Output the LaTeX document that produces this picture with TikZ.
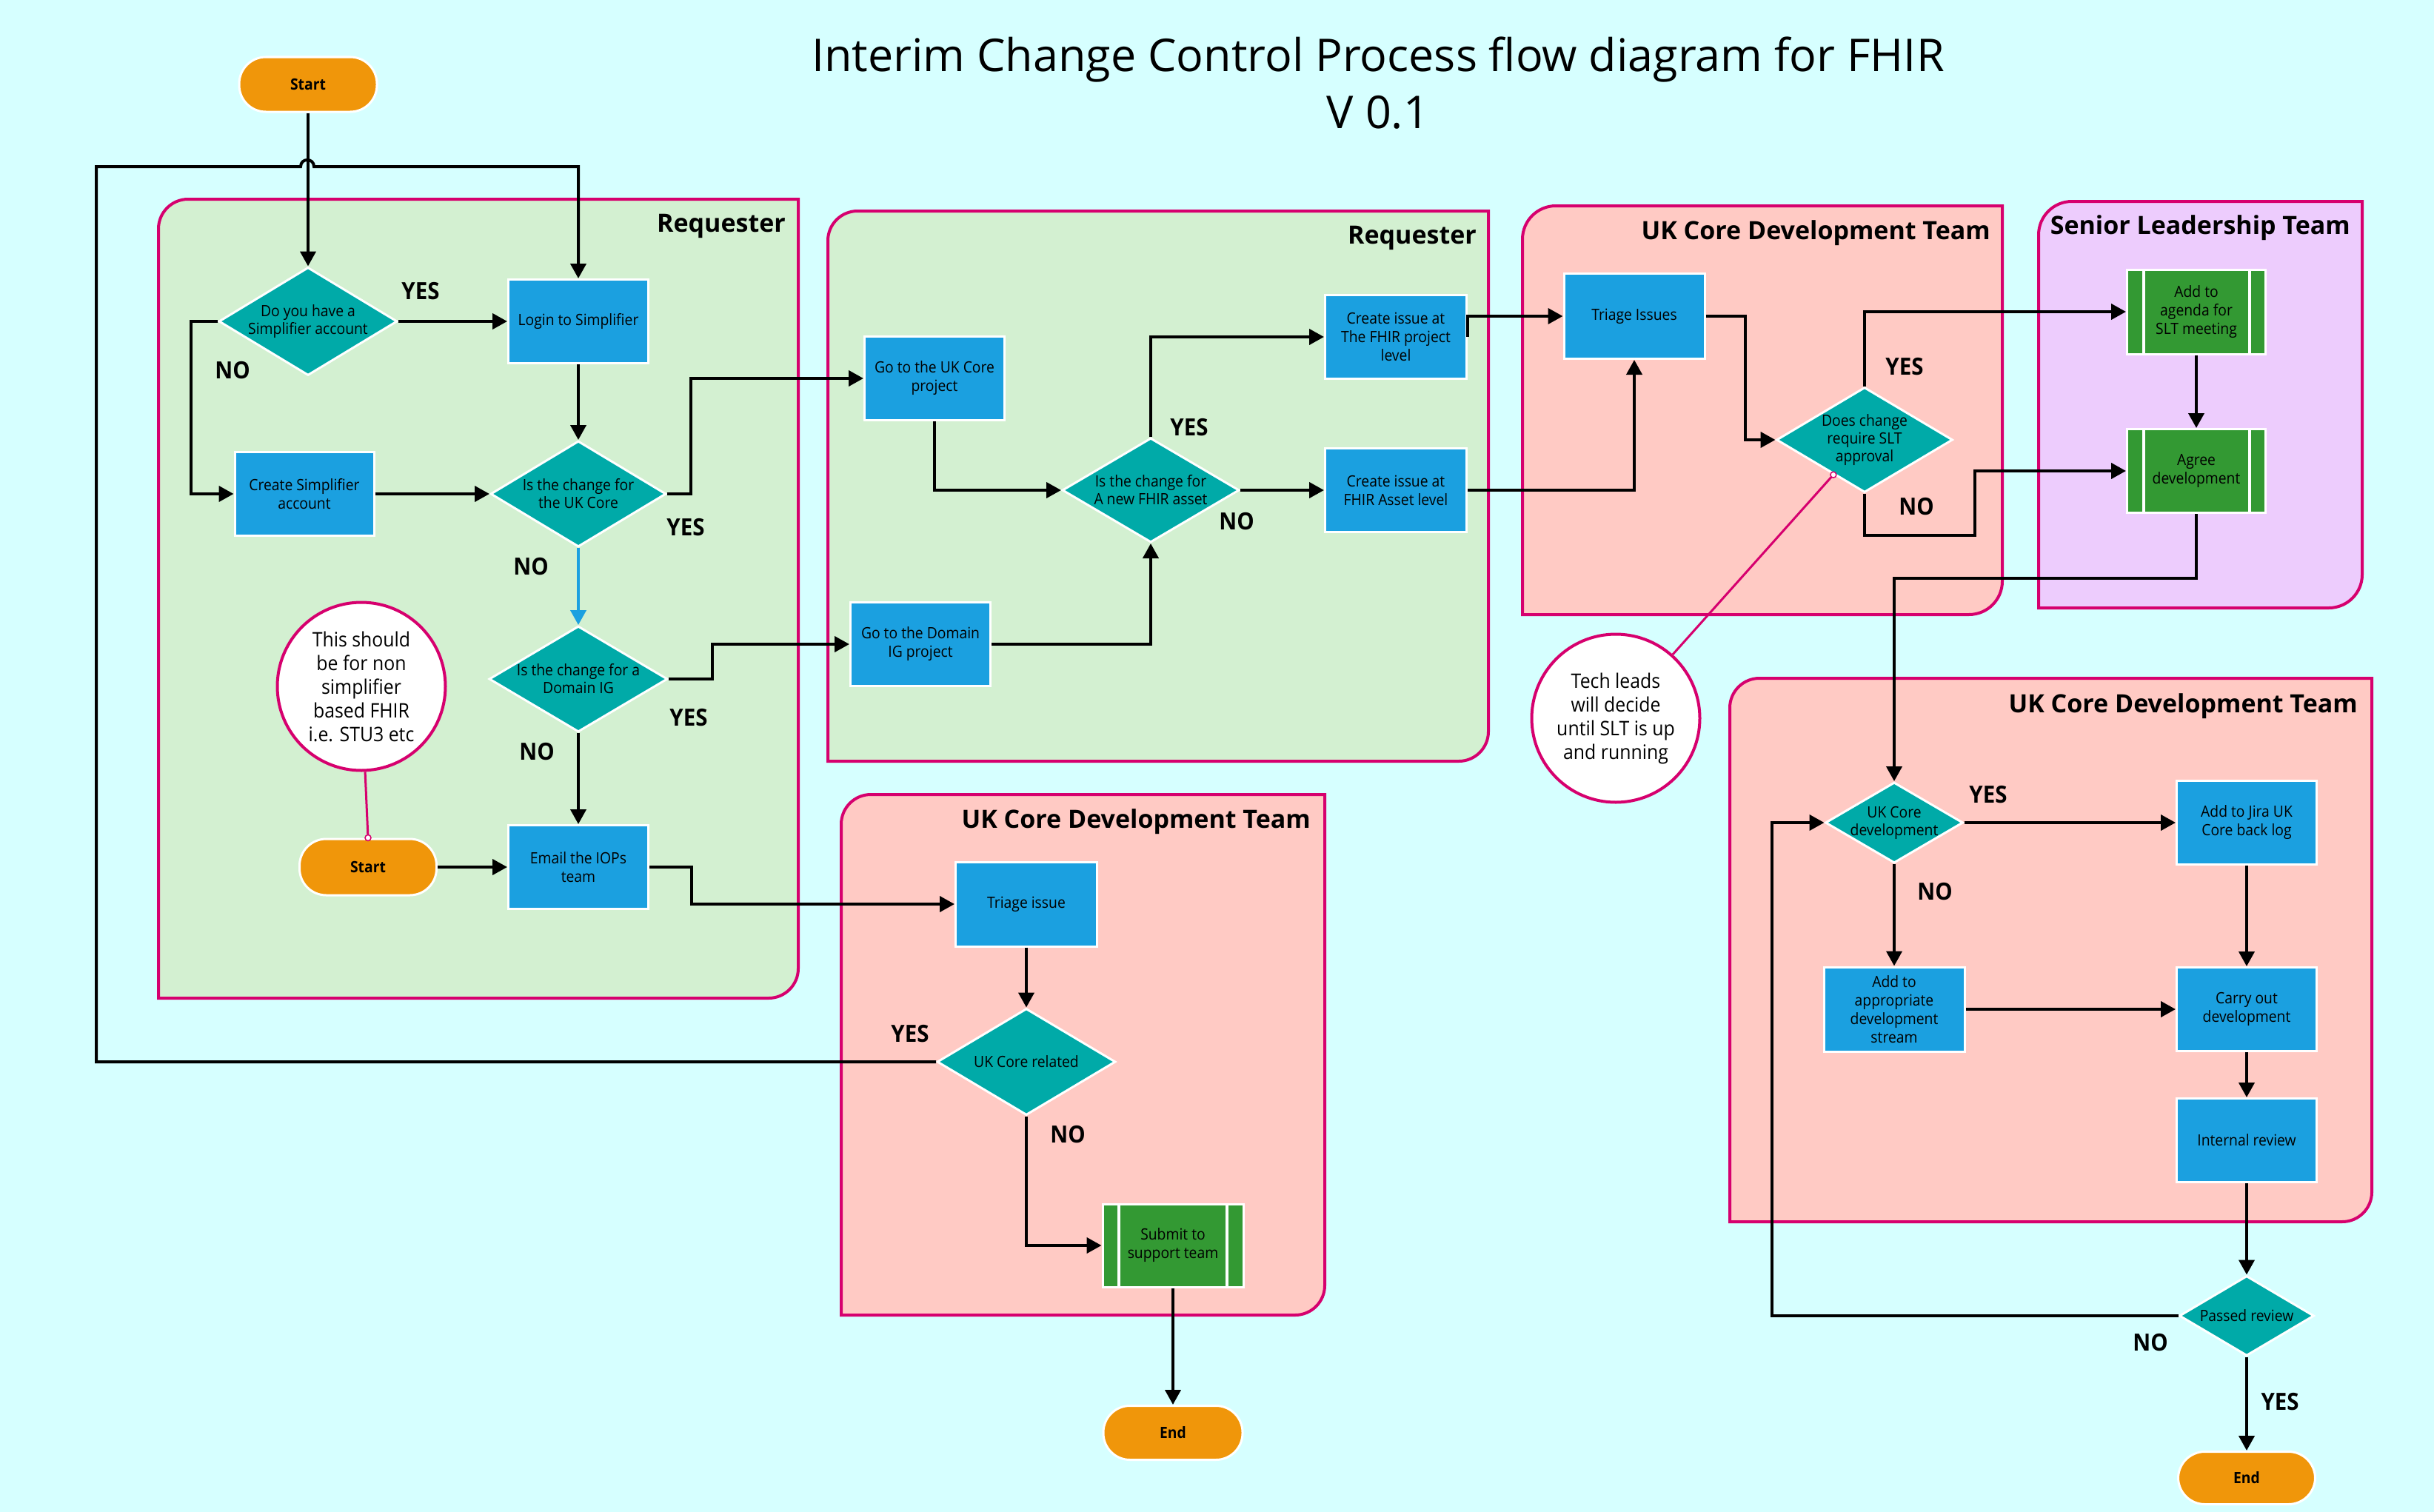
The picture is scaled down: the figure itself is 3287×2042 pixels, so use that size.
\documentclass[tikz,border=0pt]{standalone}
\usepackage{fontspec}
\setmainfont{Open Sans}
\newfontfamily\bodyf{Open Sans}[FakeStretch=0.92]
\usetikzlibrary{arrows.meta,shapes.geometric}
\definecolor{bgcyan}{RGB}{214,255,255}
\definecolor{procblue}{RGB}{27,160,224}
\definecolor{decteal}{RGB}{0,170,168}
\definecolor{predgreen}{RGB}{51,153,51}
\definecolor{termorange}{RGB}{240,150,10}
\definecolor{lanegreen}{RGB}{211,240,209}
\definecolor{lanepink}{RGB}{255,202,196}
\definecolor{lanelilac}{RGB}{237,204,253}
\definecolor{lanemag}{RGB}{214,0,110}
\newcommand\lanebox[6]{%
  \path[draw=lanemag, line width=4pt, fill=#6]
    (#1,#4) -- (#1,{#2+#5}) .. controls (#1,{#2+0.448*#5}) and ({#1+0.448*#5},#2) .. ({#1+#5},#2)
    -- (#3,#2) -- (#3,{#4-#5}) .. controls (#3,{#4-0.448*#5}) and ({#3-0.448*#5},#4) .. ({#3-#5},#4) -- cycle;}
\begin{document}
\begin{tikzpicture}[x=1pt,y=-1pt,
  proc/.style={rectangle, fill=procblue, draw=white, line width=3pt, minimum width=189pt, minimum height=113pt,
    inner sep=2pt, align=center, font=\bodyf\fontsize{21}{25}\selectfont},
  pred/.style={proc, fill=predgreen, minimum width=187pt,
    path picture={\draw[white, line width=4pt] ([xshift=22pt]path picture bounding box.north west) -- ([xshift=22pt]path picture bounding box.south west);
                  \draw[white, line width=4pt] ([xshift=-22pt]path picture bounding box.north east) -- ([xshift=-22pt]path picture bounding box.south east);}},
  dec/.style n args={3}{diamond, fill=decteal, draw=white, line width=3pt, inner sep=0pt, align=center,
    minimum width=#1pt, minimum height=#2pt, shape aspect=#3, font=\bodyf\fontsize{21}{24}\selectfont},
  term/.style={rectangle, rounded corners=36pt, fill=termorange, draw=white, line width=3pt,
    minimum width=186pt, minimum height=74pt, font=\bodyf\bfseries\fontsize{21}{25}\selectfont},
  note/.style={circle, fill=white, draw=lanemag, line width=4pt, minimum size=227pt, inner sep=0pt,
    align=center, font=\bodyf\fontsize{27}{32}\selectfont},
  yn/.style={font=\bodyf\bfseries\fontsize{32}{36}\selectfont, inner sep=0pt},
  lanetitle/.style={anchor=base east, inner sep=0pt, font=\bfseries\fontsize{34}{40}\selectfont},
  maintitle/.style={anchor=base, inner sep=0pt, font=\fontsize{61}{72}\selectfont},
  conn/.style={draw=black, line width=4pt, -{Triangle[length=20pt,width=21pt]}},
  noteline/.style={draw=lanemag, line width=3pt},
  notedot/.style={fill=white, draw=lanemag, line width=1.5pt}
]
\useasboundingbox (0,0) rectangle (3287,2042);
\fill[bgcyan] (0,0) rectangle (3287,2042);

% lanes
\lanebox{214}{269}{1078}{1348}{40}{lanegreen}
\lanebox{1118}{285}{2010}{1028}{40}{lanegreen}
\lanebox{1136}{1073}{1789}{1776}{40}{lanepink}
\lanebox{2056}{278}{2704}{830}{45}{lanepink}
\lanebox{2753}{272}{3190}{821}{45}{lanelilac}
\lanebox{2336}{916}{3203}{1650}{40}{lanepink}

\node[lanetitle] (lt1) at (1061,313) {Requester};
\node[lanetitle] (lt2) at (1994,329) {Requester};
\node[lanetitle] (lt3) at (1770,1118) {UK Core Development Team};
\node[lanetitle] (lt4) at (2688,323) {UK Core Development Team};
\node[lanetitle] (lt5) at (3174,316) {Senior Leadership Team};
\node[lanetitle] (lt6) at (3184,962) {UK Core Development Team};

% title
\node[maintitle] (title1) at (1861,96) {Interim Change Control Process flow diagram for FHIR};
\node[maintitle] (title2) at (1861,173) {V 0.1};

% nodes: requester 1
\node[term] (start1) at (416,114) {Start};
\node[dec={241}{146}{1.65}] (dec1) at (416,434) {Do you have a\\Simplifier account};
\node[proc] (login) at (781,434) {Login to Simplifier};
\node[proc, minimum width=188pt] (create) at (411,667) {Create Simplifier\\account};
\node[dec={237}{143}{1.66}] (dec2) at (781,667) {Is the change for\\the UK Core};
\node[dec={241}{143}{1.69}] (dec3) at (781,917) {Is the change for a\\Domain IG};
\node[note] (note1) at (488,927) {This should\\be for non\\simplifier\\based FHIR\\i.e. STU3 etc};
\node[term, minimum width=185pt, minimum height=76pt] (start2) at (497,1171) {Start};
\node[proc] (email) at (781,1171) {Email the IOPs\\team};

% requester 2
\node[proc] (ukproj) at (1262,511) {Go to the UK Core\\project};
\node[proc] (domig) at (1243,870) {Go to the Domain\\IG project};
\node[dec={239}{141}{1.70}] (dec4) at (1554,662) {Is the change for\\A new FHIR asset};
\node[proc, minimum width=191pt] (fhirproj) at (1885,455) {Create issue at\\The FHIR project\\level};
\node[proc, minimum width=191pt] (fhirasset) at (1885,662) {Create issue at\\FHIR Asset level};

% UK core top
\node[proc, minimum width=190pt, minimum height=115pt] (triage1) at (2207,427) {Triage Issues};
\node[dec={238}{142}{1.68}] (dec5) at (2518,594) {Does change\\require SLT\\approval};
\node[note] (note2) at (2182,970) {Tech leads\\will decide\\until SLT is up\\and running};

% SLT
\node[pred, minimum height=114pt] (agenda) at (2966,421) {Add to\\agenda for\\SLT meeting};
\node[pred] (agree) at (2966,636) {Agree\\development};

% UK core bottom right
\node[dec={186}{109}{1.71}, inner sep=-4pt] (dec6) at (2558,1111) {UK Core\\development};
\node[proc] (jira) at (3034,1111) {Add to Jira UK\\Core back log};
\node[proc, minimum width=190pt, minimum height=114pt] (stream) at (2558,1363) {Add to\\appropriate\\development\\stream};
\node[proc] (carry) at (3034,1363) {Carry out\\development};
\node[proc] (review) at (3034,1540) {Internal review};
\node[dec={182}{108}{1.69}] (dec8) at (3034,1777) {Passed review};
\node[term, minimum width=185pt, minimum height=71pt] (end2) at (3034,1996) {End};

% UK core bottom middle
\node[proc, minimum width=191pt, minimum height=114pt] (triage2) at (1386,1221) {Triage issue};
\node[dec={241}{144}{1.67}] (dec7) at (1386,1434) {UK Core related};
\node[pred, minimum width=190pt, minimum height=112pt] (submit) at (1584,1682) {Submit to\\support team};
\node[term, minimum width=188pt, minimum height=73pt] (end1) at (1584,1935) {End};

% coordinates
\coordinate (fbL) at (130,225);
\coordinate (hopA) at (406,225);
\coordinate (hopB) at (424,225);
\coordinate (n5) at (2667,723);
\coordinate (n8) at (2393,1777);

% connectors
\draw[conn] (start1.south) -- (dec1.north);
\draw[conn] (dec1.east) -- (login.west);
\draw[conn] (dec1.west) -- ++(-36,0) |- (create.west);
\draw[conn] (login.south) -- (dec2.north);
\draw[conn] (create.east) -- (dec2.west);
\draw[conn] (dec2.east) -- ++(32,0) |- (ukproj.west);
\draw[conn, draw=procblue] (dec2.south) -- (dec3.north);
\draw[conn] (dec3.east) -- ++(59,0) |- (domig.west);
\draw[conn] (dec3.south) -- (email.north);
\draw[conn] (start2.east) -- (email.west);
\draw[conn] (email.east) -- ++(57,0) |- (triage2.west);
\draw[noteline] (note1) -- coordinate[pos=1] (d1) (start2.north);
\filldraw[notedot] (d1) circle[radius=4pt];

\draw[conn] (ukproj.south) |- (dec4.west);
\draw[conn] (domig.east) -| (dec4.south);
\draw[conn] (dec4.north) |- (fhirproj.west);
\draw[conn] (dec4.east) -- (fhirasset.west);
\draw[conn] (fhirproj.east) |- (triage1.west);
\draw[conn] (fhirasset.east) -| (triage1.south);

\draw[conn] (triage1.east) -- ++(53,0) |- (dec5.west);
\draw[conn] (dec5.north) |- (agenda.west);
\draw[conn] (dec5.south) |- (n5) |- (agree.west);
\draw[noteline] (note2) -- coordinate[pos=1] (d2) (dec5);
\filldraw[notedot] (d2) circle[radius=4pt];
\draw[conn] (agenda.south) -- (agree.north);
\draw[conn] (agree.south) -- ++(0,87) -| (dec6.north);

\draw[conn] (dec6.east) -- (jira.west);
\draw[conn] (dec6.south) -- (stream.north);
\draw[conn] (jira.south) -- (carry.north);
\draw[conn] (stream.east) -- (carry.west);
\draw[conn] (carry.south) -- (review.north);
\draw[conn] (review.south) -- (dec8.north);
\draw[conn] (dec8.south) -- (end2.north);
\draw[conn] (dec8.west) -- (n8) |- (dec6.west);

\draw[conn] (triage2.south) -- (dec7.north);
\draw[conn] (dec7.south) |- (submit.west);
\draw[conn] (submit.south) -- (end1.north);
\draw[conn] (dec7.west) -| (fbL) -- (hopA) .. controls +(0,-12) and +(0,-12) .. (hopB) -- (login.north |- fbL) -- (login.north);

% labels
\node[yn] (y1) at (568,393) {YES};
\node[yn] (no1) at (314,500) {NO};
\node[yn] (y2) at (926,712) {YES};
\node[yn] (no2) at (717,765) {NO};
\node[yn] (y3) at (930,969) {YES};
\node[yn] (no3) at (725,1015) {NO};
\node[yn] (y4) at (1606,577) {YES};
\node[yn] (no4) at (1670,704) {NO};
\node[yn] (y5) at (2572,495) {YES};
\node[yn] (no5) at (2588,684) {NO};
\node[yn] (y6) at (2685,1073) {YES};
\node[yn] (no6) at (2613,1204) {NO};
\node[yn] (no8) at (2904,1813) {NO};
\node[yn] (y8) at (3079,1893) {YES};
\node[yn] (y7) at (1229,1396) {YES};
\node[yn] (no7) at (1442,1532) {NO};
\end{tikzpicture}
\end{document}
